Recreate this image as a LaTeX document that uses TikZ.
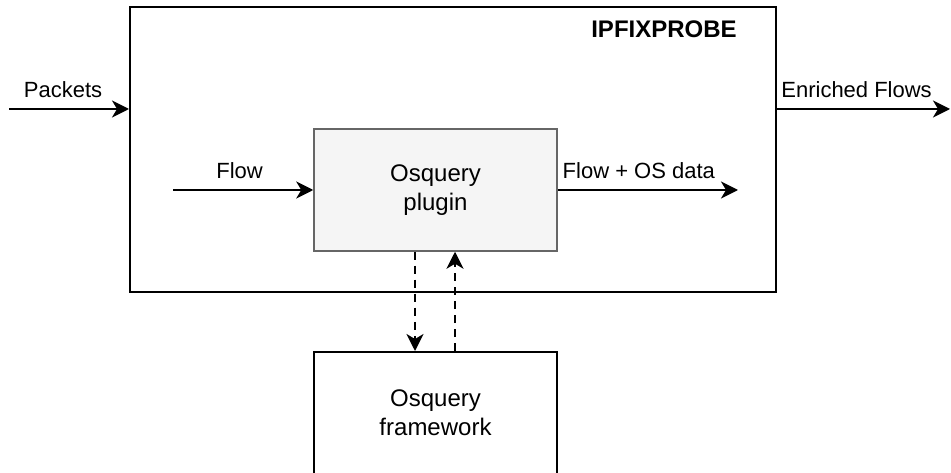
\documentclass[tikz,border=0pt]{standalone}
\usepackage{fontspec}
\setmainfont{Liberation Sans}
\usetikzlibrary{arrows.meta,positioning}
\definecolor{pluginfill}{RGB}{245,245,245}
\definecolor{plugindraw}{RGB}{102,102,102}

\begin{document}
\begin{tikzpicture}
		[x=1pt,y=-1pt,
		block/.style ={rectangle, draw=black, line width=2pt, fill=white, align=center, minimum width=243pt, minimum height=122pt, font=\fontsize{24}{29}\selectfont},
		plugin/.style = {block, draw=plugindraw, line width=1.5pt, fill=pluginfill},
		probe/.style = {rectangle, draw=black, line width=2pt, minimum width=646pt, minimum height=285pt},
		title/.style = {font=\bfseries\fontsize{24}{28}\selectfont},
		line/.style ={line width=2pt, -{Stealth[length=17pt,width=17pt,inset=5pt]}},
		dline/.style ={line, dash pattern=on 8pt off 6pt},
		lbl/.style = {font=\fontsize{22}{25}\selectfont, inner sep=0pt, above=10pt},
		]
		\useasboundingbox (0,0) rectangle (951,473);

		\draw (453,149.5) node[probe] (IPFIXPROBE) {};
		\draw (664,29) node[title] (probe-title) {IPFIXPROBE};
		\draw (435.5,190) node[plugin] (Plugin) {Osquery\\plugin};
		\draw (435.5,413) node[block] (Framework) {Osquery\\framework};

		\coordinate (pkt-in) at (9,109);
		\coordinate (flows-out) at (950,109);
		\coordinate (flow-in) at (173,190);
		\coordinate (flow-out) at (738,190);

		\path[line]
		(pkt-in) edge node[lbl, pos=.45] {Packets} (pkt-in -| IPFIXPROBE.west)
		(flows-out -| IPFIXPROBE.east) edge node[lbl, pos=.46] {Enriched Flows} (flows-out)
		(flow-in) edge node[lbl, pos=.475] {Flow} (Plugin.west)
		(Plugin.east) edge node[lbl, pos=.45] {Flow + OS data} (flow-out);

		\path[dline]
		([xshift=-20.5pt]Plugin.south) edge ([xshift=-20.5pt]Framework.north)
		([xshift=19.5pt]Framework.north) edge ([xshift=19.5pt]Plugin.south);
	\end{tikzpicture}
\end{document}
